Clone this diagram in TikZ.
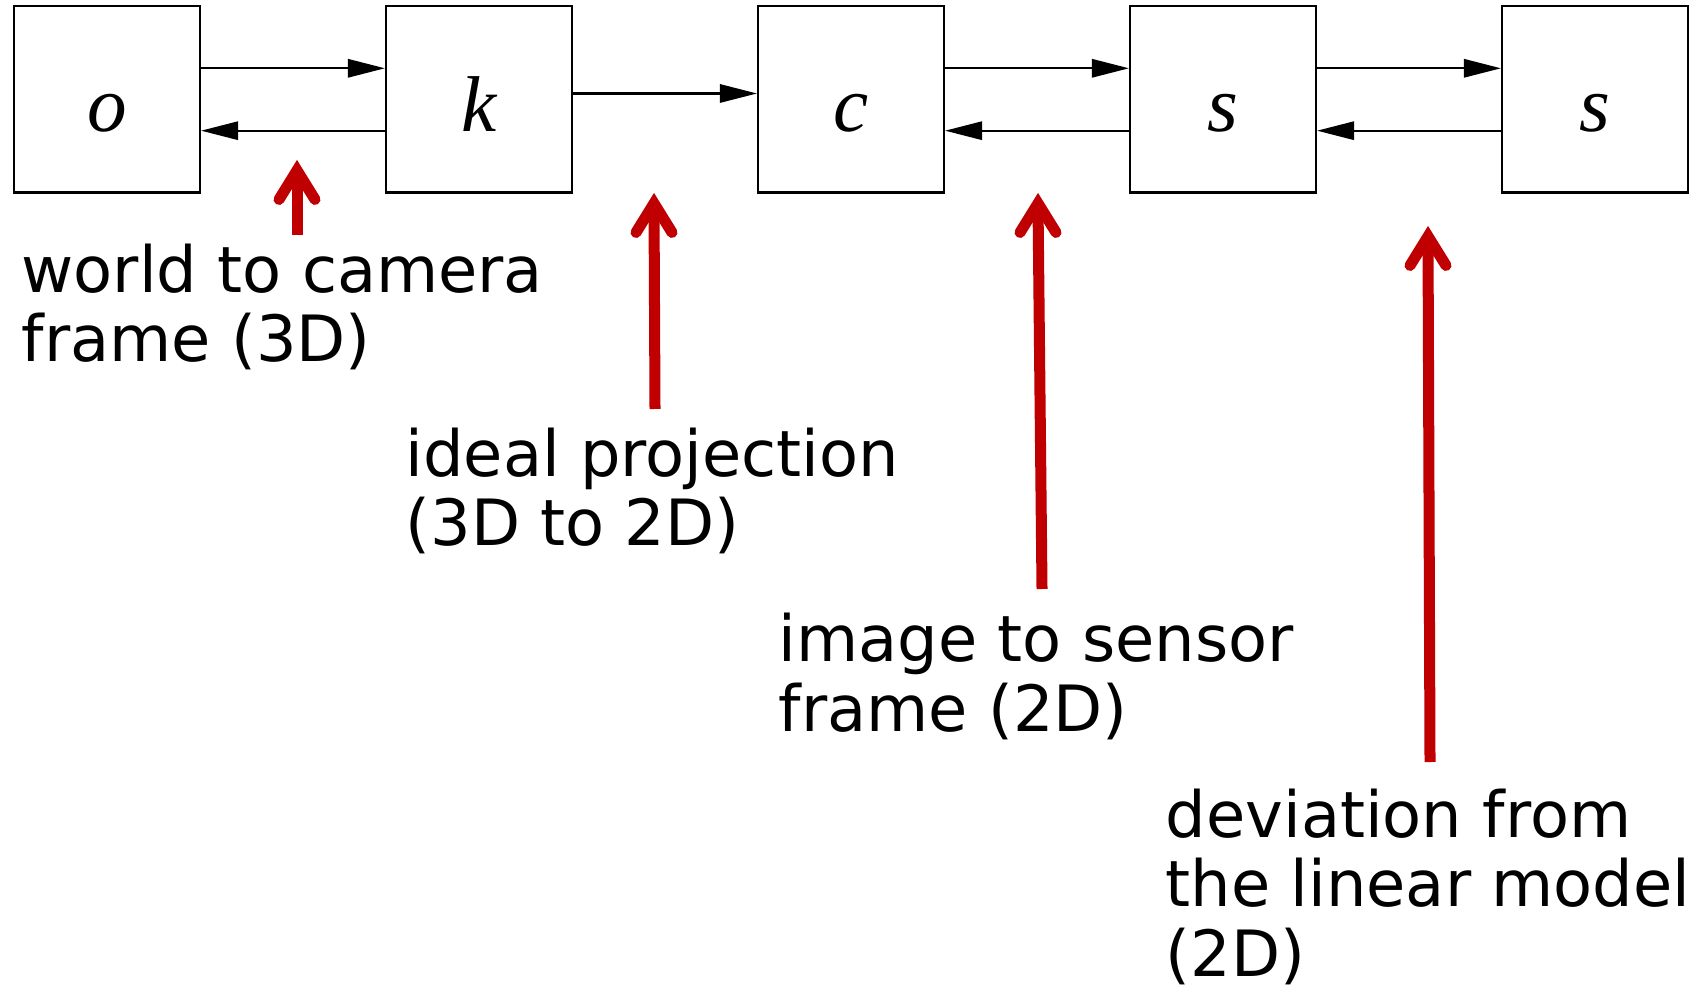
\documentclass[tikz,border=0pt]{standalone}
\usepackage{fontspec}
\setmainfont{DejaVu Sans}
\newfontfamily\boxfont{Liberation Serif}
\usetikzlibrary{arrows.meta}
\definecolor{redc}{RGB}{192,0,0}
\tikzset{
  blk/.style={draw, line width=0.6pt, minimum size=1.86cm, inner sep=0pt,
    text height=18.2pt, text depth=0pt,
    font=\boxfont\itshape\fontsize{22.5}{22.5}\selectfont},
  conn/.style={line width=0.6pt, -{Triangle[length=10.5pt, width=5.2pt]}},
  lbl/.style={anchor=base west, inner sep=0pt, align=left,
    font=\fontsize{18.15}{19.63}\selectfont},
  redshaft/.style={draw=redc, line width=3.13pt},
  redhead/.style={draw=redc, line width=3.13pt, line cap=round, line join=miter},
}
\begin{document}
\begin{tikzpicture}[x=0.01cm, y=-0.01cm]
\useasboundingbox (0,0) rectangle (1695,989);
% boxes
\node[blk] (o)  at (107,99.5)  {o};
\node[blk] (k)  at (479,99.5)  {k};
\node[blk] (c)  at (851,99.5)  {c};
\node[blk] (s1) at (1223,99.5) {s};
\node[blk] (s2) at (1595,99.5) {s};
% black connectors
\draw[conn] ([shift={(0,-31.2)}]o.east) -- ([shift={(0,-31.2)}]k.west);
\draw[conn] ([shift={(0,31.2)}]k.west) -- ([shift={(0,31.2)}]o.east);
\draw[conn] ([shift={(0,-6)}]k.east) -- ([shift={(0,-6)}]c.west);
\draw[conn] ([shift={(0,-31.2)}]c.east) -- ([shift={(0,-31.2)}]s1.west);
\draw[conn] ([shift={(0,31.2)}]s1.west) -- ([shift={(0,31.2)}]c.east);
\draw[conn] ([shift={(0,-31.2)}]s1.east) -- ([shift={(0,-31.2)}]s2.west);
\draw[conn] ([shift={(0,31.2)}]s2.west) -- ([shift={(0,31.2)}]s1.east);
% labels (anchor = baseline of last line)
\node[lbl] (l1) at (21,362)   {world to camera\\frame (3D)};
\node[lbl] (l2) at (405,546)  {ideal projection\\(3D to 2D)};
\node[lbl] (l3) at (778,731)  {image to sensor\\frame (2D)};
\node[lbl] (l4) at (1165,976) {deviation from\\the linear model\\(2D)};
% red arrows
\coordinate (a1) at (297,160);  \coordinate (t1) at (297,235);
\coordinate (a2) at (654,193);  \coordinate (t2) at (655,409);
\coordinate (a3) at (1038,193); \coordinate (t3) at (1042,589);
\coordinate (a4) at (1428,226); \coordinate (t4) at (1430,762);
\foreach \i in {1,2,3,4}{
  \draw[redshaft] (t\i) -- ([shift={(0,12)}]a\i);
  \draw[redhead] ([shift={(-18,39.5)}]a\i) -- ([shift={(0,10.4)}]a\i) -- ([shift={(18,39.5)}]a\i);
}
\end{tikzpicture}
\end{document}
